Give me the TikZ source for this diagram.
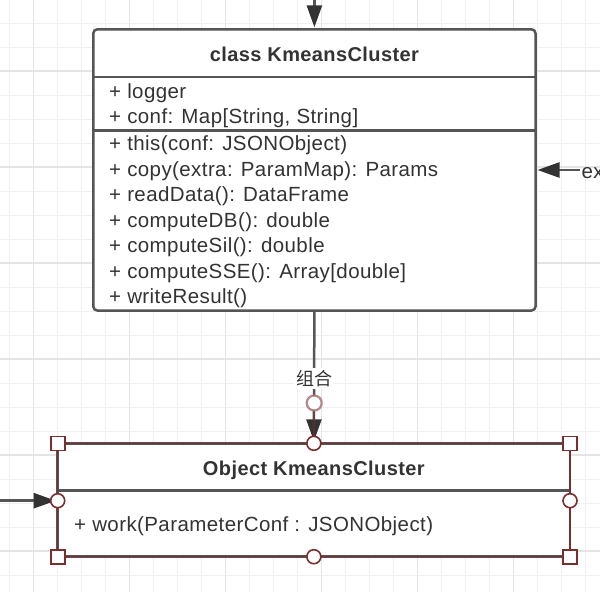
\documentclass[tikz,border=0pt]{standalone}
\usepackage{fontspec}
\setmainfont{Liberation Sans}
\newfontfamily\uifont[LetterSpace=2]{Liberation Sans}
\newfontfamily\hdfont[LetterSpace=2]{Liberation Sans}
\newfontfamily\cjkfont{Noto Sans CJK SC}
\usetikzlibrary{arrows.meta}
\definecolor{gridminor}{HTML}{EFEFEF}
\definecolor{gridmajor}{HTML}{E4E4E4}
\definecolor{boxline}{HTML}{555555}
\definecolor{txt}{HTML}{333333}
\definecolor{selred}{HTML}{7A2E2E}
\begin{document}
\begin{tikzpicture}[x=1pt,y=-1pt,
  umlbox/.style={draw=boxline, line width=2.5pt, fill=white, inner sep=0pt, outer sep=0pt},
  divider/.style={draw=boxline, line width=2.5pt},
  rowtext/.style={anchor=base west, inner sep=0pt, text=txt, font=\uifont\fontsize{20.5}{24}\selectfont},
  headtext/.style={anchor=base, inner sep=0pt, text=txt, font=\hdfont\bfseries\fontsize{20}{24}\selectfont},
  conn/.style={draw=boxline, line width=2.5pt, shorten >=2pt, -{Triangle[length=22pt,width=15pt,color=txt]}},
  lbl/.style={fill=white, inner sep=2pt, text=txt, font=\cjkfont\fontsize{18}{20}\selectfont},
  hsq/.style={draw=selred, fill=white, line width=1.6pt, minimum size=14pt, inner sep=0pt},
  hcirc/.style={circle, draw=selred, fill=white, line width=1.6pt, minimum size=14pt, inner sep=0pt},
  ghost/.style={circle, draw=selred!70, draw opacity=0.8, fill=white, line width=2.2pt, minimum size=15pt, inner sep=0pt},
  gminor/.style={draw=gridminor, line width=1pt},
  gmajor/.style={draw=gridmajor, line width=1.2pt}
]
\useasboundingbox (0,0) rectangle (600,592);
\fill[white] (0,0) rectangle (600,592);
% grid
\foreach \xx in {9.3,33.3,...,590} \draw[gminor] (\xx,0) -- (\xx,592);
\foreach \yy in {23,47,...,590} \draw[gminor] (0,\yy) -- (600,\yy);
\foreach \xx in {33.3,129.3,...,590} \draw[gmajor] (\xx,0) -- (\xx,592);
\foreach \yy in {71,167,...,590} \draw[gmajor] (0,\yy) -- (600,\yy);

% class box
\node[umlbox, rounded corners=4pt, minimum width=442.2pt, minimum height=281.2pt] (kc) at (314.4,169.9) {};
\draw[divider] (kc.west |- 0,77) -- (kc.east |- 0,77);
\draw[divider] (kc.west |- 0,130.5) -- (kc.east |- 0,130.5);
\node[headtext] (kch) at (314.4,61) {class KmeansCluster};
\node[rowtext] (a1) at (109,98.3) {+ logger};
\node[rowtext] (a2) at (109,123.3) {+ conf: Map[String, String]};
\node[rowtext] (m1) at (109,150.9) {+ this(conf: JSONObject)};
\node[rowtext] (m2) at (109,176.35) {+ copy(extra: ParamMap): Params};
\node[rowtext] (m3) at (109,201.8) {+ readData(): DataFrame};
\node[rowtext] (m4) at (109,227.25) {+ computeDB(): double};
\node[rowtext] (m5) at (109,252.7) {+ computeSil(): double};
\node[rowtext] (m6) at (109,278.15) {+ computeSSE(): Array[double]};
\node[rowtext] (m7) at (109,303.6) {+ writeResult()};

% object box
\node[umlbox, minimum width=512.3pt, minimum height=113.4pt] (ob) at (313.85,500) {};
\draw[divider] (ob.west |- 0,490.7) -- (ob.east |- 0,490.7);
\draw[selred, line width=1.1pt] (ob.north west) rectangle (ob.south east);
\node[headtext] (obh) at (313.85,475) {Object KmeansCluster};
\node[rowtext] (ow) at (74,531.7) {+ work(ParameterConf : JSONObject)};

% connectors
\coordinate (topin) at (314.4,0);
\draw[conn] (topin) -- (kc.north);
\coordinate (exin) at (580,170);
\draw[conn] (exin) -- (exin -| kc.east);
\node[rowtext] (ex) at (581.5,178.3) {ex};
\draw[conn] (kc.south) -- node[lbl, pos=0.51] (lb) {组合} (ob.north);
\node[ghost] (gh) at (314.2,403) {};
\draw[selred, line width=1pt] (gh.south) -- (ob.north);
\coordinate (lin) at (0,500.7);
\draw[conn] (lin) -- (lin -| ob.west);

% handles
\node[hsq] (h1) at (ob.north west) {};
\node[hsq] (h2) at (ob.north east) {};
\node[hsq] (h3) at (ob.south west) {};
\node[hsq] (h4) at (ob.south east) {};
\node[hcirc] (c1) at (ob.north) {};
\node[hcirc] (c2) at (ob.south) {};
\node[hcirc] (c3) at (lin -| ob.west) {};
\node[hcirc] (c4) at (lin -| ob.east) {};
\end{tikzpicture}
\end{document}
